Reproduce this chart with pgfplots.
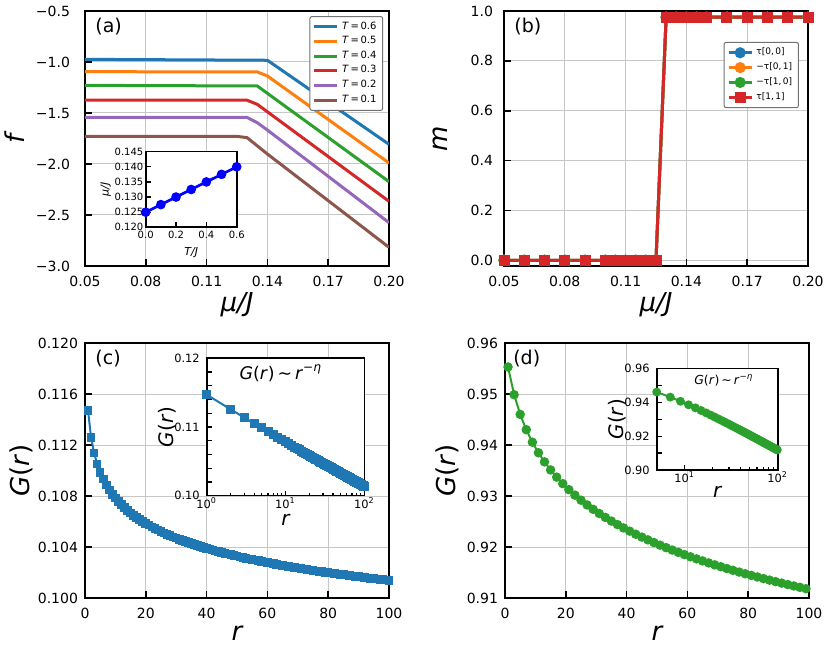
\documentclass[border=0pt]{standalone}
\usepackage{fontspec}
\setmainfont{DejaVu Sans}
\usepackage{pgfplots}
\usepackage{pgfplotstable}
\pgfplotsset{compat=1.18}

\definecolor{c0}{HTML}{1F77B4}
\definecolor{c1}{HTML}{FF7F0E}
\definecolor{c2}{HTML}{2CA02C}
\definecolor{c3}{HTML}{D62728}
\definecolor{c4}{HTML}{9467BD}
\definecolor{c5}{HTML}{8C564B}

% G(r) for panel (c)
\pgfplotstableread{
r G
1 0.11470
2 0.11259
3 0.11137
4 0.11052
5 0.10986
6 0.10932
7 0.10887
8 0.10848
9 0.10814
10 0.10784
11 0.10756
12 0.10731
13 0.10708
14 0.10687
15 0.10667
16 0.10649
17 0.10631
18 0.10615
19 0.10600
20 0.10585
21 0.10571
22 0.10558
23 0.10546
24 0.10534
25 0.10522
26 0.10511
27 0.10500
28 0.10490
29 0.10480
30 0.10471
31 0.10461
32 0.10453
33 0.10444
34 0.10436
35 0.10428
36 0.10420
37 0.10412
38 0.10405
39 0.10397
40 0.10390
41 0.10383
42 0.10377
43 0.10370
44 0.10364
45 0.10357
46 0.10351
47 0.10345
48 0.10340
49 0.10334
50 0.10328
51 0.10323
52 0.10317
53 0.10312
54 0.10307
55 0.10302
56 0.10297
57 0.10292
58 0.10287
59 0.10283
60 0.10278
61 0.10273
62 0.10269
63 0.10264
64 0.10260
65 0.10256
66 0.10252
67 0.10248
68 0.10243
69 0.10239
70 0.10236
71 0.10232
72 0.10228
73 0.10224
74 0.10220
75 0.10217
76 0.10213
77 0.10209
78 0.10206
79 0.10202
80 0.10199
81 0.10196
82 0.10192
83 0.10189
84 0.10186
85 0.10182
86 0.10179
87 0.10176
88 0.10173
89 0.10170
90 0.10167
91 0.10164
92 0.10161
93 0.10158
94 0.10155
95 0.10152
96 0.10149
97 0.10146
98 0.10144
99 0.10141
100 0.10138
}\datc

% G(r) for panel (d)
\pgfplotstableread{
r G
1 0.95530
3 0.94986
5 0.94600
7 0.94300
9 0.94055
11 0.93848
13 0.93669
15 0.93511
17 0.93370
19 0.93242
21 0.93125
23 0.93017
25 0.92918
27 0.92825
29 0.92739
31 0.92657
33 0.92580
35 0.92508
37 0.92439
39 0.92374
41 0.92311
43 0.92251
45 0.92194
47 0.92140
49 0.92087
51 0.92036
53 0.91987
55 0.91940
57 0.91895
59 0.91851
61 0.91808
63 0.91767
65 0.91727
67 0.91688
69 0.91650
71 0.91613
73 0.91577
75 0.91543
77 0.91509
79 0.91475
81 0.91443
83 0.91412
85 0.91381
87 0.91351
89 0.91321
91 0.91292
93 0.91264
95 0.91236
97 0.91209
99 0.91182
}\datd

% m for panel (b)
\pgfplotstableread{
mu m
0.050 0
0.060 0
0.070 0
0.080 0
0.090 0
0.100 0
0.105 0
0.110 0
0.115 0
0.120 0
0.125 0
0.130 0.975
0.135 0.975
0.140 0.975
0.145 0.975
0.150 0.975
0.160 0.975
0.170 0.975
0.180 0.975
0.190 0.975
0.200 0.975
}\datb

\tikzset{plab/.style={font=\fontsize{9.5}{11}\selectfont, anchor=north west, inner sep=0pt}}

\pgfplotsset{
  panel/.style={
    scale only axis, width=152pt, height=127.5pt, anchor=south west,
    axis line style={line width=1pt},
    tick align=inside, tick pos=left,
    major tick length=3.5pt,
    every tick/.style={black, line width=0.8pt},
    grid=major, grid style={black!22, line width=0.5pt},
    tick label style={font=\fontsize{7}{8}\selectfont},
    label style={font=\fontsize{13}{15}\selectfont},
    scaled ticks=false,
    /pgf/number format/assume math mode=true,
    xticklabel style={yshift=-1.5pt},
    xlabel style={at={(axis description cs:0.5,-0.15)}, anchor=center},
  },
  inset/.style={
    scale only axis, anchor=south west,
    axis background/.style={fill=white},
    axis line style={line width=0.8pt},
    tick align=inside, tick pos=left,
    major tick length=2.5pt, minor tick length=1.5pt,
    every tick/.style={black, line width=0.6pt},
    scaled ticks=false,
    /pgf/number format/assume math mode=true,
  },
  leg/.style={
    legend style={draw=black!55, rounded corners=1pt, line width=0.5pt,
      inner xsep=1.5pt, inner ysep=1.5pt, row sep=0pt,
      nodes={inner xsep=1.6pt, inner ysep=#1}},
    legend cell align=left,
  },
}

\begin{document}
\begin{tikzpicture}
\path[use as bounding box] (0,0) rectangle (415.5pt,327pt);

% (a)
\begin{axis}[panel, leg=1.05pt, at={(42.5pt,194pt)},
    xmin=0.05, xmax=0.20, ymin=-3, ymax=-0.5,
    xtick={0.05,0.08,0.11,0.14,0.17,0.20},
    xticklabel style={/pgf/number format/.cd, fixed, fixed zerofill, precision=2, /tikz/.cd},
    ytick={-3,-2.5,-2,-1.5,-1,-0.5},
    yticklabels={−3.0,−2.5,−2.0,−1.5,−1.0,−0.5},
    yticklabel style={xshift=-4pt},
    xlabel={\itshape μ/J}, ylabel={\itshape f},
    ylabel style={at={(axis description cs:-0.23,0.5)}, anchor=center},
    legend style={at={(0.981,0.980)}, anchor=north east, font=\fontsize{5}{5.6}\selectfont},
    legend image code/.code={\draw[#1] (0pt,0pt) -- (11.5pt,0pt);},
]
\addplot[c0, line width=1.5pt] coordinates {(0.05,-0.974) (0.14,-0.983) (0.20,-1.807)};
\addplot[c1, line width=1.5pt] coordinates {(0.05,-1.095) (0.135,-1.097) (0.14,-1.137) (0.20,-1.990)};
\addplot[c2, line width=1.5pt] coordinates {(0.05,-1.229) (0.135,-1.235) (0.20,-2.173)};
\addplot[c3, line width=1.5pt] coordinates {(0.05,-1.373) (0.13,-1.375) (0.135,-1.415) (0.20,-2.366)};
\addplot[c4, line width=1.5pt] coordinates {(0.05,-1.542) (0.13,-1.544) (0.135,-1.595) (0.14,-1.667) (0.20,-2.575)};
\addplot[c5, line width=1.5pt] coordinates {(0.05,-1.729) (0.125,-1.729) (0.13,-1.742) (0.14,-1.902) (0.20,-2.817)};
\legend{\textit{T}\,=\,0.6, \textit{T}\,=\,0.5, \textit{T}\,=\,0.4, \textit{T}\,=\,0.3, \textit{T}\,=\,0.2, \textit{T}\,=\,0.1}
\node[plab] at (axis description cs:0.033,0.975) {(a)};
\end{axis}

% inset of (a)
\begin{axis}[inset, at={(72.85pt,213.35pt)}, width=45.5pt, height=37.8pt,
    xmin=0, xmax=0.6, ymin=0.12, ymax=0.145,
    xtick={0,0.2,0.4,0.6}, ytick={0.120,0.125,0.130,0.135,0.140,0.145},
    tick label style={font=\fontsize{5}{5.5}\selectfont},
    xticklabel style={/pgf/number format/.cd, fixed, fixed zerofill, precision=1, /tikz/.cd, inner sep=0.8pt, yshift=-0.9pt},
    yticklabel style={/pgf/number format/.cd, fixed, fixed zerofill, precision=3, /tikz/.cd, inner sep=1pt},
    xlabel={\itshape T/J}, ylabel={\itshape μ/J},
    label style={font=\fontsize{5.5}{6}\selectfont},
    xlabel style={at={(axis description cs:0.5,-0.33)}, anchor=center},
    ylabel style={at={(axis description cs:-0.44,0.5)}, anchor=center},
]
\addplot[blue, line width=1.35pt, mark=*, mark size=1.7pt] coordinates {
  (0,0.125) (0.1,0.1275) (0.2,0.130) (0.3,0.1325) (0.4,0.135) (0.5,0.1375) (0.6,0.140)};
\end{axis}

% (b)
\begin{axis}[panel, leg=1.25pt, at={(252pt,194pt)},
    xmin=0.05, xmax=0.20, ymin=-0.023, ymax=1.0,
    xtick={0.05,0.08,0.11,0.14,0.17,0.20},
    xticklabel style={/pgf/number format/.cd, fixed, fixed zerofill, precision=2, /tikz/.cd},
    ytick={0,0.2,0.4,0.6,0.8,1.0},
    yticklabel style={/pgf/number format/.cd, fixed, fixed zerofill, precision=1, /tikz/.cd, xshift=-2pt},
    xlabel={\itshape μ/J}, ylabel={\itshape m},
    ylabel style={at={(axis description cs:-0.21,0.5)}, anchor=center},
    legend style={at={(0.970,0.879)}, anchor=north east, font=\fontsize{4.5}{5.2}\selectfont},
    legend image code/.code={\draw[mark repeat=2, mark phase=2, #1] plot coordinates {(0pt,0pt) (5.75pt,0pt) (11.5pt,0pt)};},
]
\addplot[c0, line width=1.5pt, mark=*, mark size=2pt] table[x=mu, y=m] {\datb};
\addlegendentry{τ[0,\,0]}
\addplot[c1, line width=1.5pt, mark=*, mark size=2pt] table[x=mu, y=m] {\datb};
\addlegendentry{−τ[0,\,1]}
\addplot[c2, line width=1.5pt, mark=*, mark size=2pt] table[x=mu, y=m] {\datb};
\addlegendentry{−τ[1,\,0]}
\addplot[c3, line width=1.5pt, mark=square*, mark size=2pt] table[x=mu, y=m] {\datb};
\addlegendentry{τ[1,\,1]}
\node[plab] at (axis description cs:0.033,0.975) {(b)};
\end{axis}

% (c)
\begin{axis}[panel, at={(42.5pt,28pt)},
    xmin=0, xmax=100, ymin=0.100, ymax=0.120,
    xtick={0,20,40,60,80,100},
    ytick={0.100,0.104,0.108,0.112,0.116,0.120},
    yticklabel style={/pgf/number format/.cd, fixed, fixed zerofill, precision=3, /tikz/.cd},
    xlabel={\itshape r}, ylabel={\textit{G}(\textit{r})},
    xlabel style={at={(axis description cs:0.5,-0.14)}, anchor=center},
    ylabel style={at={(axis description cs:-0.21,0.5)}, anchor=center},
]
\addplot[c0, line width=1pt, mark=square*, mark size=1.65pt] table[x=r, y=G] {\datc};
\node[plab] at (axis description cs:0.033,0.973) {(c)};
\end{axis}

% inset of (c)
\begin{axis}[inset, at={(103.35pt,79.15pt)}, width=78.8pt, height=68.7pt,
    xmode=log, xmin=1, xmax=100, ymin=0.10, ymax=0.12,
    xtick={1,10,100}, xticklabels={10\textsuperscript{0},10\textsuperscript{1},10\textsuperscript{2}},
    ytick={0.100,0.102,0.104,0.106,0.108,0.110,0.112,0.114,0.116,0.118,0.120},
    yticklabels={0.10,,,,,0.11,,,,,0.12},
    tick label style={font=\fontsize{5.7}{6.5}\selectfont},
    xticklabel style={inner sep=0.8pt},
    xlabel={\itshape r}, ylabel={\textit{G}(\textit{r})},
    label style={font=\fontsize{10}{11}\selectfont},
    xlabel style={at={(axis description cs:0.5,-0.175)}, anchor=center},
    ylabel style={at={(axis description cs:-0.25,0.5)}, anchor=center},
]
\addplot[c0, line width=1pt, mark=square*, mark size=1.75pt] table[x=r, y=G] {\datc};
\node[font=\fontsize{8.7}{10}\selectfont] at (axis description cs:0.47,0.89)
  {\textit{G}(\textit{r})\,∼\,\textit{r}\textsuperscript{−\textit{η}}};
\end{axis}

% (d)
\begin{axis}[panel, at={(252.5pt,28pt)},
    xmin=0, xmax=100, ymin=0.91, ymax=0.96,
    xtick={0,20,40,60,80,100},
    ytick={0.91,0.92,0.93,0.94,0.95,0.96},
    yticklabel style={/pgf/number format/.cd, fixed, fixed zerofill, precision=2, /tikz/.cd},
    xlabel={\itshape r}, ylabel={\textit{G}(\textit{r})},
    xlabel style={at={(axis description cs:0.5,-0.14)}, anchor=center},
    ylabel style={at={(axis description cs:-0.19,0.5)}, anchor=center},
]
\addplot[c2, line width=1pt, mark=*, mark size=1.85pt] table[x=r, y=G] {\datd};
\node[plab] at (axis description cs:0.026,0.975) {(d)};
\end{axis}

% inset of (d)
\begin{axis}[inset, at={(328.35pt,92pt)}, width=60.5pt, height=50.85pt,
    xmode=log, xmin=5, xmax=100, ymin=0.90, ymax=0.96,
    xtick={10,100}, xticklabels={10\textsuperscript{1},10\textsuperscript{2}},
    ytick={0.90,0.91,0.92,0.93,0.94,0.95,0.96},
    yticklabels={0.90,,0.92,,0.94,,0.96},
    tick label style={font=\fontsize{5.7}{6.5}\selectfont},
    xticklabel style={inner sep=0.8pt},
    xlabel={\itshape r}, ylabel={\textit{G}(\textit{r})},
    label style={font=\fontsize{10}{11}\selectfont},
    xlabel style={at={(axis description cs:0.5,-0.22)}, anchor=center},
    ylabel style={at={(axis description cs:-0.33,0.5)}, anchor=center},
]
\addplot[c2, line width=1pt, mark=*, mark size=1.7pt] table[x=r, y=G] {\datd};
\node[font=\fontsize{6.2}{7}\selectfont] at (axis description cs:0.555,0.885)
  {\textit{G}(\textit{r})\,∼\,\textit{r}\textsuperscript{−\textit{η}}};
\end{axis}

\end{tikzpicture}
\end{document}
